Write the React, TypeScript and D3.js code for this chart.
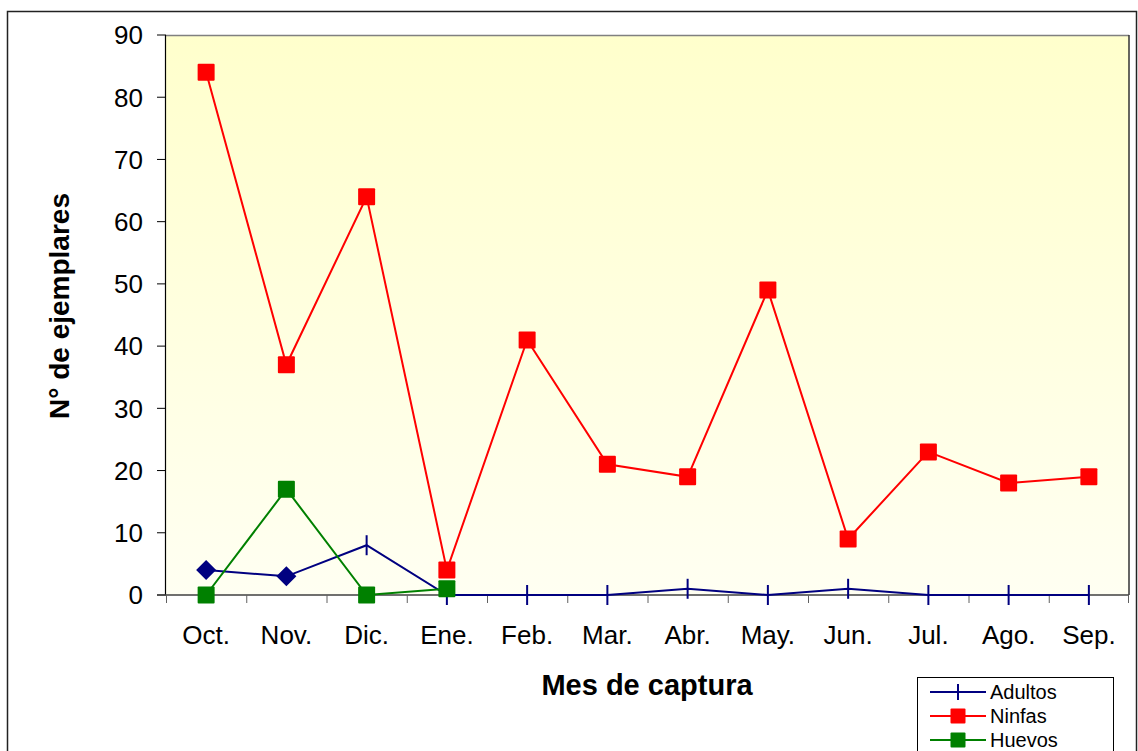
import React from "react";
import * as d3 from "d3";

const months = ["Oct.", "Nov.", "Dic.", "Ene.", "Feb.", "Mar.", "Abr.", "May.", "Jun.", "Jul.", "Ago.", "Sep."];
const adultos = [4, 3, 8, 0, 0, 0, 1, 0, 1, 0, 0, 0];
const ninfas = [84, 37, 64, 4, 41, 21, 19, 49, 9, 23, 18, 19];
const huevos: (number | null)[] = [0, 17, 0, 1, null, null, null, null, null, null, null, null];
const adultosDiamond = [true, true, false, false, false, false, false, false, false, false, false, false];
const yTicks = [0, 10, 20, 30, 40, 50, 60, 70, 80, 90];

const W = 1138, H = 751;
const left = 166, right = 1129, top = 35, bottom = 595;

export default function App() {
  const x = d3.scaleBand<string>().domain(months).range([left, right]).paddingInner(0).paddingOuter(0);
  const y = d3.scaleLinear().domain([0, 90]).range([bottom, top]);
  const cx = (i: number) => (x(months[i]) as number) + x.bandwidth() / 2;

  const line = d3.line<number | null>()
    .defined((d) => d !== null)
    .x((_, i) => cx(i))
    .y((d) => y(d as number));

  const font = "'Liberation Sans', Arial, sans-serif";
  const NAVY = "#000080", RED = "#FF0000", GREEN = "#008000";
  const sq = 8.5;

  const square = (px: number, py: number, color: string, key: string) => (
    <rect key={key} x={px - sq} y={py - sq} width={sq * 2} height={sq * 2} fill={color} rx={1} />
  );

  return (
    <svg width={W} height={H} style={{ position: "absolute", left: 0, top: 0 }}>
      <defs>
        <linearGradient id="bg" x1="0" y1="0" x2="0" y2="1">
          <stop offset="0%" stopColor="#FFFFCC" />
          <stop offset="100%" stopColor="#FFFFF2" />
        </linearGradient>
      </defs>
      <rect x={0} y={0} width={W} height={H} fill="#fff" />
      <rect x={7.5} y={11.5} width={1129} height={760} fill="none" stroke="#222" strokeWidth={1.5} />

      {/* plot area */}
      <rect x={left} y={top} width={right - left} height={bottom - top} fill="url(#bg)" />
      <line x1={left} y1={top + 0.5} x2={right} y2={top + 0.5} stroke="#808080" strokeWidth={1.5} />
      <line x1={right} y1={top} x2={right} y2={bottom} stroke="#333" strokeWidth={1.5} />

      {/* y axis */}
      <line x1={left - 0.5} y1={top} x2={left - 0.5} y2={bottom} stroke="#000" strokeWidth={1.2} />
      {yTicks.map((t) => (
        <g key={t}>
          <line x1={left - 9} x2={left} y1={y(t)} y2={y(t)} stroke="#000" strokeWidth={1} />
          <text x={143} y={y(t)} dy="0.36em" textAnchor="end" fontFamily={font} fontSize={26} fill="#000">{t}</text>
        </g>
      ))}

      {/* x axis */}
      <line x1={left - 9} x2={right} y1={bottom} y2={bottom} stroke="#404040" strokeWidth={1.5} />
      {months.map((m, i) => (
        <line key={"t" + i} x1={(x(m) as number) + 0.5} x2={(x(m) as number) + 0.5} y1={bottom} y2={bottom + 8} stroke="#606060" strokeWidth={1} />
      ))}
      <line x1={right - 0.5} x2={right - 0.5} y1={bottom} y2={bottom + 8} stroke="#606060" strokeWidth={1} />
      {months.map((m, i) => (
        <text key={"l" + i} x={cx(i)} y={644} textAnchor="middle" fontFamily={font} fontSize={26} fill="#000">{m}</text>
      ))}

      {/* axis titles */}
      <text x={647} y={695} textAnchor="middle" fontFamily={font} fontSize={29} fontWeight="bold" fill="#000">Mes de captura</text>
      <text transform={`translate(69,306) rotate(-90)`} textAnchor="middle" fontFamily={font} fontSize={28} fontWeight="bold" fill="#000">N° de ejemplares</text>

      {/* Adultos */}
      <path d={line(adultos) as string} fill="none" stroke={NAVY} strokeWidth={2} />
      {adultos.map((v, i) =>
        adultosDiamond[i] ? (
          <path key={"ad" + i} d={`M${cx(i)},${y(v) - 10} L${cx(i) + 10},${y(v)} L${cx(i)},${y(v) + 10} L${cx(i) - 10},${y(v)} Z`} fill={NAVY} />
        ) : (
          <line key={"ap" + i} x1={cx(i)} x2={cx(i)} y1={y(v) - 10} y2={y(v) + 10} stroke={NAVY} strokeWidth={2} />
        )
      )}

      {/* Ninfas */}
      <path d={line(ninfas) as string} fill="none" stroke={RED} strokeWidth={2} />
      {ninfas.map((v, i) => square(cx(i), y(v), RED, "n" + i))}

      {/* Huevos */}
      <path d={line(huevos) as string} fill="none" stroke={GREEN} strokeWidth={2} />
      {huevos.map((v, i) => (v === null ? null : square(cx(i), y(v), GREEN, "h" + i)))}

      {/* legend */}
      <rect x={917.5} y={677.5} width={196} height={80} fill="#fff" stroke="#000" strokeWidth={1} />
      {[
        { name: "Adultos", color: NAVY, marker: "plus" },
        { name: "Ninfas", color: RED, marker: "square" },
        { name: "Huevos", color: GREEN, marker: "square" },
      ].map((s, i) => {
        const ly = 692 + i * 24;
        const mx = 958;
        return (
          <g key={s.name}>
            <line x1={930} x2={986} y1={ly} y2={ly} stroke={s.color} strokeWidth={2} />
            {s.marker === "plus" ? (
              <line x1={mx} x2={mx} y1={ly - 8} y2={ly + 8} stroke={s.color} strokeWidth={2} />
            ) : (
              <rect x={mx - 7.5} y={ly - 7.5} width={15} height={15} fill={s.color} rx={1} />
            )}
            <text x={990} y={ly} dy="0.36em" fontFamily={font} fontSize={20} fill="#000">{s.name}</text>
          </g>
        );
      })}
    </svg>
  );
}
